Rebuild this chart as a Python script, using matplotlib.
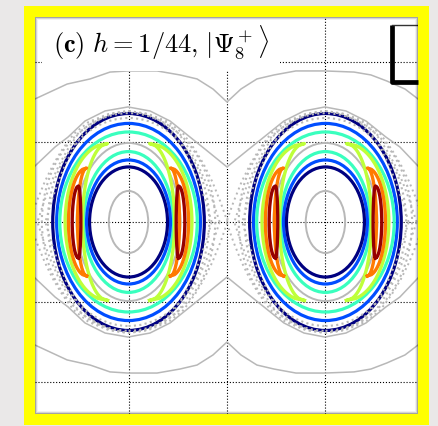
import numpy as np
import matplotlib.pyplot as plt
from matplotlib.patches import Ellipse, Rectangle

plt.rcParams['mathtext.fontset'] = 'cm'

# island centres and contour rings (semi-axes in q and p)
island_q = [-0.5, 0.5]
ring_a = [0.385, 0.365, 0.349, 0.228, 0.213, 0.198]
ring_b = [0.678, 0.616, 0.5625, 0.44, 0.3875, 0.344]
ring_level = [0.0, 0.2, 0.42, 0.42, 0.2, 0.0]

# crescent-shaped contours on the sides of each island
cres_outer = [0.322, 0.305, 0.286]
cres_inner = [0.234, 0.259, 0.242]
cres_tip = [0.107, 0.213, 0.254]
cres_half = [0.49, 0.3375, 0.225]
cres_level = [0.58, 0.78, 0.98]

# classical tori inside the islands
torus_a = [0.100, 0.264]
torus_b = [0.194, 0.494]

# chaotic layer around the islands
chaos_a = [0.41, 0.44]
chaos_b = [0.65, 0.68]
sep_dq = np.array([0.503, 0.467, 0.426, 0.381, 0.335, 0.279, 0.203, 0.102, 0.0])
sep_dp = np.array([0.0, 0.125, 0.25, 0.3625, 0.456, 0.55, 0.625, 0.675, 0.694])
sep_width = [0.84, 0.92, 1.0]

# rotational orbits (upper branch, lower one is mirrored)
orbit_q = [-0.975, -0.812, -0.695, -0.594, -0.503, -0.355, -0.239, -0.152, -0.071, 0.0,
           0.071, 0.152, 0.239, 0.350, 0.497, 0.645, 0.731, 0.812, 0.904, 0.970]
orbit1_p = [0.769, 0.862, 0.894, 0.937, 0.944, 0.944, 0.919, 0.894, 0.831, 0.75,
            0.831, 0.894, 0.919, 0.944, 0.944, 0.937, 0.919, 0.881, 0.831, 0.769]
orbit2_q = [-0.975, -0.873, -0.807, -0.721, -0.619, -0.503, -0.391, -0.289, -0.188, -0.112, 0.0,
            0.112, 0.188, 0.289, 0.391, 0.497, 0.604, 0.706, 0.807, 0.878, 0.970]
orbit2_p = [0.35, 0.469, 0.531, 0.631, 0.694, 0.719, 0.694, 0.631, 0.531, 0.456, 0.344,
            0.456, 0.531, 0.631, 0.694, 0.719, 0.694, 0.631, 0.531, 0.469, 0.35]

gray = '#b8b8b8'

fig = plt.figure(figsize=(4.38, 4.27), dpi=100)
fig.patch.set_facecolor('#eae8e8')
frame = Rectangle((0.0548, 0.0023), 0.9247, 0.9813, transform=fig.transFigure,
                  facecolor='#ffff00', edgecolor='none', zorder=-10)
fig.patches.append(frame)

ax = fig.add_axes([0.0799, 0.0281, 0.8744, 0.9297])
ax.set_facecolor('white')
ax.set_xlim(-0.975, 0.97)
ax.set_ylim(-1.2, 1.281)
ax.set_xticks([-0.5, 0, 0.5])
ax.set_yticks([-1, -0.5, 0, 0.5, 1])
ax.tick_params(length=0, labelbottom=False, labelleft=False)
for s in ax.spines.values():
    s.set_visible(False)
ax.grid(True, linestyle=':', color='k', linewidth=0.8)
ax.set_axisbelow(True)

# rotational orbits
for q, p in [(orbit_q, orbit1_p), (orbit2_q, orbit2_p)]:
    ax.plot(q, p, color=gray, lw=1.1, zorder=1)
    ax.plot(q, -np.array(p), color=gray, lw=1.1, zorder=1)

cmap = plt.cm.jet
s = np.linspace(-1, 1, 80)
for qc in island_q:
    for a, b in zip(torus_a, torus_b):
        ax.add_patch(Ellipse((qc, 0), 2 * a, 2 * b, fill=False, ec=gray, lw=1.4, zorder=1))
    for a, b, lev in zip(ring_a, ring_b, ring_level):
        ax.add_patch(Ellipse((qc, 0), 2 * a, 2 * b, fill=False, ec=cmap(lev), lw=2.3, zorder=2))
    for ao, ai, t, h, lev in zip(cres_outer, cres_inner, cres_tip, cres_half, cres_level):
        xo = t + (ao - t) * np.sqrt(1 - s ** 2)
        xi = t + (ai - t) * np.sqrt(1 - s ** 2)
        xs = np.concatenate([xo, xi[::-1], xo[:1]])
        ps = np.concatenate([h * s, h * s[::-1], h * s[:1]])
        for side in (-1, 1):
            ax.plot(qc + side * xs, ps, color=cmap(lev), lw=2.4, zorder=2,
                    solid_joinstyle='round')
    # chaotic layer
    for a, b in zip(chaos_a, chaos_b):
        ax.add_patch(Ellipse((qc, 0), 2 * a, 2 * b, fill=False, ec=gray, lw=1.5,
                             ls=(0, (1, 1.6)), zorder=3))
    for w in sep_width:
        dq = np.concatenate([sep_dq, -sep_dq[::-1], -sep_dq, sep_dq[::-1]]) * w
        dp = np.concatenate([sep_dp, sep_dp[::-1], -sep_dp, -sep_dp[::-1]])
        ax.plot(qc + dq, dp, color=gray, lw=1.4, ls=(0, (1, 1.8)), zorder=3)

# partial legend frame in the corner
ax.plot([0.932, 0.932, 1.0], [0.98, 0.836, 0.836], transform=ax.transAxes,
        color='k', lw=3.4, solid_capstyle='butt', zorder=4, clip_on=False)
ax.plot([0.932, 1.0], [0.98, 0.98], transform=ax.transAxes, color='#333333', lw=1, zorder=4)

ax.text(0.047, 0.914, r'$\mathbf{(c)}\ h=1/44\mathbf{,}\ |\Psi_8^+\rangle$',
        transform=ax.transAxes, fontsize=19, va='baseline', ha='left', zorder=5,
        clip_on=True,
        bbox=dict(boxstyle='square,pad=0.4', facecolor='white', edgecolor='none'))

# soft inner shadow of the frame
for i, al in enumerate([0.22, 0.12, 0.06]):
    ax.add_patch(Rectangle((0, 0), 1, 1, transform=ax.transAxes, fill=False,
                           ec=(0, 0, 0, al), lw=1.4 + 1.4 * i, zorder=6, clip_on=True))

fig.savefig('out.png', dpi=100, facecolor=fig.get_facecolor())
